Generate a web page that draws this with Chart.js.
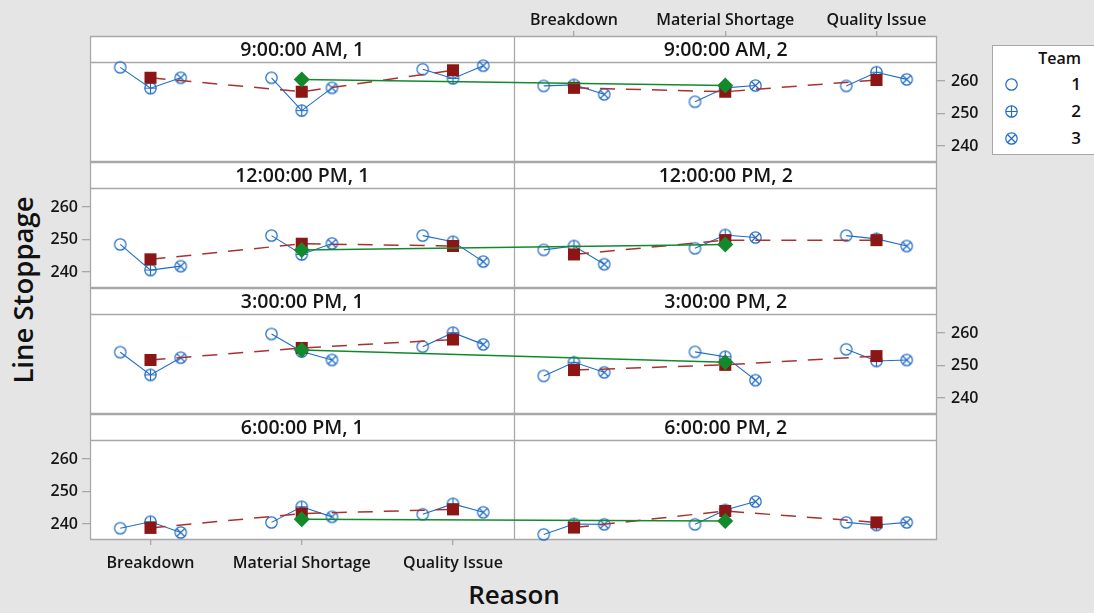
<!DOCTYPE html>
<html><head><meta charset="utf-8">
<script src="https://cdn.jsdelivr.net/npm/chart.js@4.4.1/dist/chart.umd.min.js"></script>
<style>
html,body{margin:0;padding:0;background:#e5e5e5;width:1094px;height:613px;overflow:hidden;font-family:"Open Sans",sans-serif;}
.cv{position:absolute;left:0;}
#ytitle{position:absolute;left:22px;top:290px;transform:translate(-50%,-50%) rotate(-90deg);font-size:27.5px;font-weight:600;white-space:nowrap;color:#111;}
#xtitle{position:absolute;left:514px;top:594px;transform:translate(-50%,-50%);font-size:26px;font-weight:600;white-space:nowrap;color:#111;}
#legend{position:absolute;left:992px;top:45px;width:120px;height:110px;background:#fff;border:1px solid #a8a8a8;box-sizing:border-box;}
#legend .lt{position:absolute;right:30px;top:0px;font-size:16px;font-weight:600;color:#111;line-height:22px;}
#legend .li{position:absolute;right:30px;font-size:17px;font-weight:600;color:#111;line-height:20px;}
#legend canvas{position:absolute;left:11px;}
</style></head>
<body>
<div id="ytitle">Line Stoppage</div>
<div id="xtitle">Reason</div>
<div id="legend"><div class="lt" style="top:1px">Team</div></div>
<script>
// ---------- data ----------
const timeLabels = ['9:00:00 AM', '12:00:00 PM', '3:00:00 PM', '6:00:00 PM'];
const shiftLabels = ['1', '2'];
const reasons = ['Breakdown', 'Material Shortage', 'Quality Issue'];
const teamLabels = ['1', '2', '3'];
const yTickValues = [240, 250, 260];

// rows = time; each row: shift 1 (Breakdown, Material Shortage, Quality Issue), shift 2 (same)
const team1 = [
  [264.2, 261.0, 263.6, 258.5, 253.6, 258.5],
  [248.5, 251.2, 251.2, 246.8, 247.3, 251.2],
  [254.1, 259.7, 255.8, 246.8, 254.2, 255.0],
  [238.7, 240.5, 243.0, 236.8, 239.9, 240.5]
];
const team2 = [
  [257.8, 250.9, 260.8, 258.8, 257.9, 262.7],
  [240.6, 245.4, 249.3, 248.0, 251.4, 250.2],
  [247.1, 254.3, 260.1, 251.0, 252.7, 251.4],
  [240.7, 245.3, 246.2, 240.0, 244.3, 239.7]
];
const team3 = [
  [261.0, 257.9, 264.7, 255.9, 258.6, 260.5],
  [241.8, 248.8, 243.2, 242.4, 250.6, 248.0],
  [252.4, 251.7, 256.5, 247.9, 245.5, 251.7],
  [237.4, 242.2, 243.6, 239.9, 246.9, 240.5]
];
const reasonMeans = [
  [261.0, 256.7, 263.3, 257.9, 256.7, 260.3],
  [243.9, 248.7, 248.0, 245.4, 249.8, 249.8],
  [251.7, 255.4, 258.0, 248.6, 250.2, 252.9],
  [238.8, 243.2, 244.5, 238.9, 244.0, 240.5]
];
const shiftMeans = [
  [260.5, 258.6],
  [246.8, 248.5],
  [254.8, 251.0],
  [241.5, 240.9]
];

// ---------- styling ----------
const BLUE = '#1f6cc6', RED = '#8c1616', RED_LINE = '#a83232', GREEN = '#128a2c';
const FRAME = '#a8a8a8', TXT = '#151515';
const FONT = 'Open Sans';
const PANEL_SHIFT = 2.8, XMIN = -0.4, XMAX = 5.2;
const ROW_TOP0 = 36, ROW_H = 126, STRIP_H = 26;
const YMIN = 235.08, YMAX = 273.85;

function makeMarker(kind) {
  const c = document.createElement('canvas');
  c.width = 15; c.height = 15;
  const g = c.getContext('2d');
  g.strokeStyle = BLUE; g.lineWidth = 1.2;
  const cx = 7.5, cy = 7.5, r = 5.7;
  g.beginPath(); g.arc(cx, cy, r, 0, Math.PI * 2); g.stroke();
  g.beginPath();
  if (kind === 'plus') { g.moveTo(cx - r, cy); g.lineTo(cx + r, cy); g.moveTo(cx, cy - r); g.lineTo(cx, cy + r); }
  if (kind === 'x') { const d = r * Math.SQRT1_2; g.moveTo(cx - d, cy - d); g.lineTo(cx + d, cy + d); g.moveTo(cx + d, cy - d); g.lineTo(cx - d, cy + d); }
  g.stroke();
  return c;
}
const markers = [makeMarker('o'), makeMarker('plus'), makeMarker('x')];

// legend entries
const leg = document.getElementById('legend');
teamLabels.forEach((t, i) => {
  const y = 38 + i * 27;
  const cv = makeMarker(['o', 'plus', 'x'][i]);
  cv.style.top = (y - 7.5) + 'px';
  leg.appendChild(cv);
  const d = document.createElement('div'); d.className = 'li'; d.textContent = t;
  d.style.top = (y - 10) + 'px';
  leg.appendChild(d);
});

const panelPlugin = {
  id: 'panels',
  beforeDraw(chart) {
    const { ctx, chartArea: a } = chart;
    ctx.save(); ctx.fillStyle = '#fff';
    ctx.fillRect(a.left, a.top, a.right - a.left, a.bottom - a.top);
    ctx.restore();
  },
  beforeDatasetsDraw(chart, args, opts) {
    const { ctx, chartArea: a } = chart;
    const mid = Math.round(chart.scales.x.getPixelForValue(2.4)) + 0.5;
    const L = Math.round(a.left) + 0.5, R = Math.round(a.right) - 0.5;
    const T = Math.round(a.top) + 0.5, B = Math.round(a.bottom) - 0.5;
    const sb = Math.round(a.top + STRIP_H) + 0.5;
    ctx.save();
    ctx.strokeStyle = FRAME; ctx.lineWidth = 1.3;
    ctx.beginPath();
    ctx.rect(L, T, R - L, B - T);
    ctx.moveTo(mid, T); ctx.lineTo(mid, B);
    ctx.moveTo(L, sb); ctx.lineTo(R, sb);
    ctx.stroke();
    ctx.fillStyle = TXT;
    ctx.font = '600 19.5px "' + FONT + '"';
    ctx.textAlign = 'center'; ctx.textBaseline = 'middle';
    ctx.fillText(opts.labels[0], (a.left + mid) / 2, a.top + STRIP_H / 2 + 1);
    ctx.fillText(opts.labels[1], (mid + a.right) / 2, a.top + STRIP_H / 2 + 1);
    ctx.restore();
  }
};

const tickFont = { family: FONT, size: 16, weight: '600' };

for (let r = 0; r < timeLabels.length; r++) {
  const cv = document.createElement('canvas');
  cv.className = 'cv';
  cv.width = 1094; cv.height = 207;
  cv.style.top = (ROW_TOP0 + ROW_H * r - 36) + 'px';
  document.body.appendChild(cv);

  const datasets = [];
  // green: shift means across the row
  datasets.push({
    data: shiftLabels.map((_, s) => ({ x: s * PANEL_SHIFT + 1, y: shiftMeans[r][s] })),
    showLine: true, borderColor: GREEN, borderWidth: 1.5,
    pointStyle: 'rectRot', pointRadius: 8, pointBackgroundColor: GREEN, pointBorderColor: GREEN, pointBorderWidth: 0,
    order: 1, clip: false
  });
  for (let s = 0; s < shiftLabels.length; s++) {
    // red: reason means
    datasets.push({
      data: reasons.map((_, k) => ({ x: s * PANEL_SHIFT + k, y: reasonMeans[r][s * 3 + k] })),
      showLine: true, borderColor: RED_LINE, borderWidth: 1.5, borderDash: [15, 11],
      pointStyle: 'rect', pointRadius: 8.5, pointBackgroundColor: RED, pointBorderColor: RED, pointBorderWidth: 0,
      order: 2, clip: false
    });
    // blue: teams within each reason
    for (let k = 0; k < reasons.length; k++) {
      const c = s * PANEL_SHIFT + k, i = s * 3 + k;
      datasets.push({
        data: [{ x: c - 0.2, y: team1[r][i] }, { x: c, y: team2[r][i] }, { x: c + 0.2, y: team3[r][i] }],
        showLine: true, borderColor: BLUE, borderWidth: 1.1,
        pointStyle: markers, pointRadius: 6,
        order: 3, clip: false
      });
    }
  }

  const leftTicks = (r % 2 === 1), rightTicks = (r % 2 === 0);
  new Chart(cv, {
    type: 'scatter',
    data: { datasets },
    plugins: [panelPlugin],
    options: {
      responsive: false, animation: false, events: [],
      layout: { padding: { left: 0, right: 0, top: r === 0 ? 0 : 36, bottom: r === 3 ? 0 : 45 } },
      plugins: { legend: { display: false }, tooltip: { enabled: false }, panels: { labels: shiftLabels.map(s => timeLabels[r] + ', ' + s) } },
      scales: {
        x: {
          type: 'linear', position: 'bottom', min: XMIN, max: XMAX, display: r === 3,
          afterBuildTicks: sc => { sc.ticks = reasons.map((_, k) => ({ value: k })); },
          afterFit: sc => { if (sc.options.display) sc.height = 45; },
          ticks: { callback: v => reasons[Math.round(v)], font: tickFont, color: TXT, padding: 9, autoSkip: false, maxRotation: 0 },
          grid: { drawOnChartArea: false, drawTicks: true, tickLength: 5, color: FRAME, lineWidth: 1.3 },
          border: { display: false }
        },
        x2: {
          type: 'linear', position: 'top', min: XMIN, max: XMAX, display: r === 0,
          afterBuildTicks: sc => { sc.ticks = reasons.map((_, k) => ({ value: PANEL_SHIFT + k })); },
          afterFit: sc => { if (sc.options.display) sc.height = 36; },
          ticks: { callback: v => reasons[Math.round(v - PANEL_SHIFT)], font: tickFont, color: TXT, padding: 1, autoSkip: false, maxRotation: 0 },
          grid: { drawOnChartArea: false, drawTicks: true, tickLength: 5, color: FRAME, lineWidth: 1.3 },
          border: { display: false }
        },
        y: {
          position: 'left', min: YMIN, max: YMAX,
          afterBuildTicks: sc => { sc.ticks = yTickValues.map(v => ({ value: v })); },
          afterFit: sc => { sc.width = 90; },
          ticks: { display: leftTicks, font: tickFont, color: TXT, padding: 4 },
          grid: { display: leftTicks, drawOnChartArea: false, tickLength: 8, color: FRAME, lineWidth: 1.3 },
          border: { display: false }
        },
        y2: {
          position: 'right', min: YMIN, max: YMAX,
          afterBuildTicks: sc => { sc.ticks = yTickValues.map(v => ({ value: v })); },
          afterFit: sc => { sc.width = 157; },
          ticks: { display: rightTicks, font: tickFont, color: TXT, padding: 6 },
          grid: { display: rightTicks, drawOnChartArea: false, tickLength: 8, color: FRAME, lineWidth: 1.3 },
          border: { display: false }
        }
      }
    }
  });
}
</script>
</body></html>
